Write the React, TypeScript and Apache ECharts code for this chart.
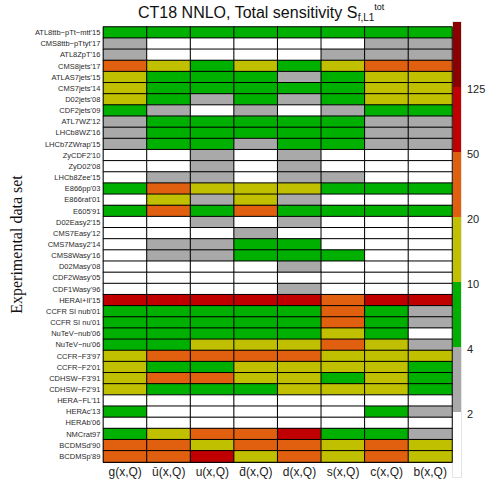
import React, { useEffect, useRef } from 'react';
import * as echarts from 'echarts';

const pdfs = ['g(x,Q)', 'ū(x,Q)', 'u(x,Q)', 'd̄(x,Q)', 'd(x,Q)', 's(x,Q)', 'c(x,Q)', 'b(x,Q)'];

const datasets = [
  "ATL8ttb−pTt−mtt'15",
  "CMS8ttb−pTtyt'17",
  "ATL8ZpT'16",
  "CMS8jets'17",
  "ATLAS7jets'15",
  "CMS7jets'14",
  "D02jets'08",
  "CDF2jets'09",
  "ATL7WZ'12",
  "LHCb8WZ'16",
  "LHCb7ZWrap'15",
  "ZyCDF2'10",
  "ZyD02'08",
  "LHCb8Zee'15",
  "E866pp'03",
  "E866rat'01",
  "E605'91",
  "D02Easy2'15",
  "CMS7Easy'12",
  "CMS7Masy2'14",
  "CMS8Wasy'16",
  "D02Masy'08",
  "CDF2Wasy'05",
  "CDF1Wasy'96",
  "HERAI+II'15",
  "CCFR SI nub'01",
  "CCFR SI nu'01",
  "NuTeV−nub'06",
  "NuTeV−nu'06",
  "CCFR−F3'97",
  "CCFR−F2'01",
  "CDHSW−F3'91",
  "CDHSW−F2'91",
  "HERA−FL'11",
  "HERAc'13",
  "HERAb'06",
  "NMCrat97",
  "BCDMSd'90",
  "BCDMSp'89",
];

// columns: g, ubar, u, dbar, d, s, c, b
const sensitivity: number[][] = [
  [6, 6, 6, 6, 6, 6, 6, 6],
  [3, 1, 1, 1, 1, 1, 3, 3],
  [3, 1, 1, 1, 1, 3, 3, 3],
  [30, 14, 6, 14, 6, 14, 30, 30],
  [14, 6, 6, 6, 3, 6, 14, 14],
  [14, 6, 6, 6, 6, 6, 14, 14],
  [14, 6, 3, 6, 3, 6, 14, 14],
  [6, 3, 1, 3, 1, 3, 6, 6],
  [3, 6, 6, 6, 6, 6, 3, 3],
  [3, 6, 6, 6, 6, 6, 3, 3],
  [3, 6, 6, 3, 6, 6, 3, 3],
  [1, 1, 3, 1, 3, 1, 1, 1],
  [1, 1, 3, 1, 3, 1, 1, 1],
  [1, 3, 3, 1, 3, 3, 1, 1],
  [6, 30, 14, 14, 14, 6, 6, 6],
  [1, 14, 3, 14, 3, 1, 1, 1],
  [6, 30, 6, 30, 6, 6, 6, 6],
  [1, 1, 3, 1, 3, 1, 1, 1],
  [1, 1, 1, 3, 1, 1, 1, 1],
  [1, 3, 3, 6, 6, 1, 1, 1],
  [1, 3, 3, 6, 6, 6, 1, 1],
  [1, 1, 1, 1, 3, 1, 1, 1],
  [1, 1, 1, 1, 1, 1, 1, 1],
  [1, 1, 1, 1, 3, 1, 1, 1],
  [80, 80, 80, 80, 80, 30, 80, 80],
  [6, 6, 6, 6, 6, 30, 6, 3],
  [6, 6, 6, 6, 6, 30, 6, 3],
  [6, 6, 6, 6, 6, 14, 6, 1],
  [6, 6, 14, 14, 14, 30, 14, 3],
  [14, 30, 30, 30, 30, 14, 14, 14],
  [14, 6, 6, 14, 14, 14, 14, 6],
  [14, 30, 30, 14, 14, 6, 14, 6],
  [14, 6, 6, 6, 14, 14, 14, 6],
  [1, 1, 1, 1, 1, 1, 1, 1],
  [6, 1, 1, 1, 1, 1, 6, 3],
  [1, 1, 1, 1, 1, 1, 1, 1],
  [6, 14, 30, 30, 80, 6, 6, 3],
  [30, 30, 14, 30, 30, 14, 30, 14],
  [30, 30, 80, 14, 30, 14, 30, 14],
];

const colorBounds = [2, 4, 10, 20, 50, 125];
const colorLabels = ['2', '4', '10', '20', '50', '125'];
const colors = ['#ffffff', '#a9a9a9', '#00b000', '#c0c000', '#e06010', '#c00000', '#8b0000'];

const SANS = '"Liberation Sans", Arial, sans-serif';

export default function App() {
  const ref = useRef<HTMLDivElement>(null);
  useEffect(() => {
    const chart = echarts.init(ref.current!, null, { renderer: 'svg' });
    const data: number[][] = [];
    sensitivity.forEach((row, yi) => row.forEach((v, xi) => data.push([xi, yi, v])));
    const pieces = colors.map((c, i) => {
      const p: any = { color: c };
      if (i > 0) p.gte = colorBounds[i - 1];
      if (i < colorBounds.length) p.lt = colorBounds[i];
      return p;
    });

    const cbX = 453, cbTop = 22, segH = 65, cbW = 8;
    const graphics: any[] = [];
    graphics.push({
      type: 'rect', silent: true,
      shape: { x: cbX - 0.5, y: cbTop - 0.5, width: cbW + 1, height: segH * colors.length + 1 },
      style: { fill: 'none', stroke: '#e4e4e4', lineWidth: 1 },
    });
    colors.forEach((c, i) => {
      graphics.push({
        type: 'rect', silent: true,
        shape: { x: cbX, y: cbTop + (colors.length - 1 - i) * segH, width: cbW, height: segH },
        style: { fill: c },
      });
    });
    colorLabels.forEach((t, i) => {
      graphics.push({
        type: 'text', silent: true,
        x: 467, y: cbTop + (colors.length - 1 - i) * segH + 2,
        style: { text: t, fill: '#222', font: '11px "Liberation Sans", Arial, sans-serif', verticalAlign: 'middle', align: 'left' },
      });
    });
    graphics.push({
      type: 'text', silent: true,
      x: 138, y: 2,
      style: {
        text: 'CT18 NNLO, Total sensitivity S{sub|f,L1}{sup|tot}',
        fill: '#111',
        fontFamily: SANS,
        fontSize: 16,
        lineHeight: 20,
        rich: {
          sub: { fontSize: 10, fontFamily: SANS, fill: '#111', verticalAlign: 'bottom', lineHeight: 10 },
          sup: { fontSize: 9, fontFamily: SANS, fill: '#111', verticalAlign: 'top', lineHeight: 19 },
        },
      },
    });

    chart.setOption({
      animation: false,
      backgroundColor: '#ffffff',
      grid: { left: 88, right: 38, top: 27, bottom: 35 },
      xAxis: {
        type: 'category',
        data: pdfs,
        axisLine: { show: true, lineStyle: { color: '#000', width: 1 } },
        axisTick: { show: false },
        splitLine: { show: false },
        axisLabel: { color: '#222', fontSize: 12, fontFamily: SANS, margin: 4 },
      },
      yAxis: {
        type: 'category',
        data: datasets,
        inverse: true,
        name: 'Experimental data set',
        nameLocation: 'middle',
        nameRotate: 90,
        nameGap: 74,
        nameTextStyle: { fontFamily: '"Liberation Serif", "Times New Roman", serif', fontSize: 16, color: '#111' },
        axisLine: { show: true, lineStyle: { color: '#000', width: 1 } },
        axisTick: { show: false },
        splitLine: { show: false },
        axisLabel: { color: '#2a2a2a', fontSize: 7.5, fontFamily: SANS, margin: 3 },
      },
      visualMap: { type: 'piecewise', show: false, dimension: 2, pieces },
      graphic: graphics,
      series: [
        {
          type: 'heatmap',
          data,
          itemStyle: { borderColor: '#000', borderWidth: 1 },
          emphasis: { disabled: true },
          label: { show: false },
        },
      ],
    });
    return () => chart.dispose();
  }, []);
  return <div ref={ref} style={{ position: 'absolute', left: 0, top: 0, width: 490, height: 497 }} />;
}
